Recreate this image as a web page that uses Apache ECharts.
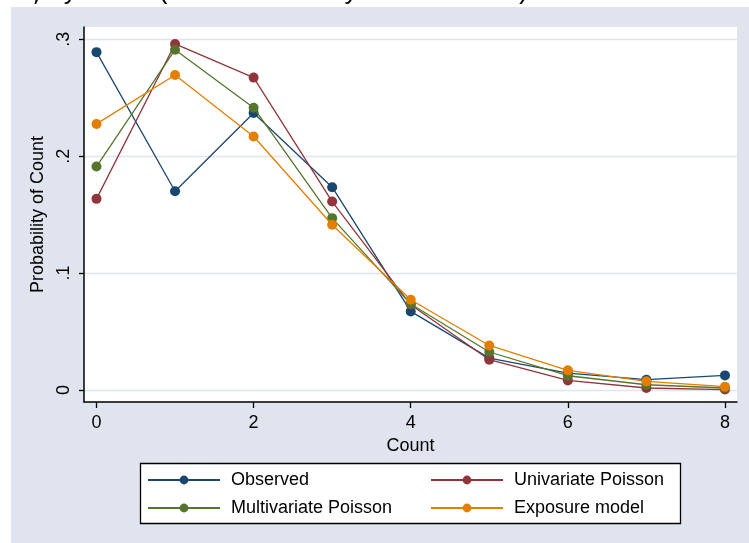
<!DOCTYPE html>
<html>
<head>
<meta charset="utf-8">
<script src="https://cdn.jsdelivr.net/npm/echarts@6/dist/echarts.min.js"></script>
<style>html,body{margin:0;padding:0;background:#fff;}#c{width:749px;height:543px;}</style>
</head>
<body>
<div id="c"></div>
<script>
const counts = [0, 1, 2, 3, 4, 5, 6, 7, 8];
const observed = [0.289, 0.170, 0.237, 0.1735, 0.0672, 0.0273, 0.0145, 0.0088, 0.0125];
const univariatePoisson = [0.1635, 0.296, 0.2672, 0.1612, 0.0729, 0.0259, 0.0082, 0.0017, 0.0004];
const multivariatePoisson = [0.1911, 0.2911, 0.2415, 0.147, 0.0735, 0.0325, 0.0122, 0.0045, 0.0017];
const exposureModel = [0.2276, 0.2695, 0.2168, 0.1413, 0.0772, 0.0381, 0.0168, 0.0074, 0.0028];
const xTicks = [0, 2, 4, 6, 8];
const yTicks = [0, 0.1, 0.2, 0.3];
const yTickLabels = ['0', '.1', '.2', '.3'];
const seriesNames = ['Observed', 'Univariate Poisson', 'Multivariate Poisson', 'Exposure model'];
const seriesColors = ['#1a476f', '#90353b', '#55752f', '#e37e00'];
const topText = 'ts, ytitle("Probability of Count")';

const FONT = '"Liberation Sans", Arial, sans-serif';
const allValues = [observed, univariatePoisson, multivariatePoisson, exposureModel];

const chart = echarts.init(document.getElementById('c'), null, {renderer: 'canvas'});
const series = seriesNames.map((name, i) => ({
  name: name,
  type: 'line',
  data: counts.map((c, j) => [c, allValues[i][j]]),
  symbol: 'circle',
  symbolSize: 10,
  color: seriesColors[i],
  lineStyle: {width: 1.3, color: seriesColors[i]},
  itemStyle: {color: seriesColors[i]},
  emphasis: {disabled: true},
  animation: false,
  z: 2 + i
}));

const legendCommon = {
  orient: 'vertical',
  itemWidth: 72,
  itemHeight: 11,
  itemGap: 10,
  textStyle: {fontFamily: FONT, fontSize: 18, color: '#000', padding: [0, 0, 0, 6]},
  selectedMode: false
};

chart.setOption({
  backgroundColor: '#ffffff',
  animation: false,
  graphic: [
    {type: 'rect', z: -100, shape: {x: 11, y: 7, width: 738, height: 536}, style: {fill: '#e0e4ef'}, silent: true},
    {type: 'rect', z: 1, shape: {x: 140.5, y: 463.5, width: 540, height: 60}, style: {fill: '#ffffff', stroke: '#000', lineWidth: 1.3}, silent: true},
    {type: 'text', z: 5, x: 0, y: -21, style: {text: topText, font: '26px "Liberation Mono", monospace', fill: '#000'}, silent: true}
  ],
  grid: {left: 84, right: 12, top: 27, bottom: 141, show: true, backgroundColor: '#ffffff', borderWidth: 0},
  xAxis: {
    type: 'value',
    min: -0.159, max: 8.153,
    name: 'Count', nameLocation: 'middle', nameGap: 31,
    nameTextStyle: {fontFamily: FONT, fontSize: 18, color: '#000'},
    axisLine: {show: true, onZero: false, lineStyle: {color: '#000', width: 1.5}},
    axisTick: {show: true, length: 6, lineStyle: {color: '#000', width: 1.3}, customValues: xTicks},
    axisLabel: {fontFamily: FONT, fontSize: 18, color: '#000', margin: 12, customValues: xTicks},
    splitLine: {show: false}
  },
  yAxis: {
    type: 'value',
    min: -0.01027, max: 0.3105,
    name: 'Probability of Count', nameLocation: 'middle', nameGap: 33,
    nameTextStyle: {fontFamily: FONT, fontSize: 18, color: '#000'},
    axisLine: {show: true, onZero: false, lineStyle: {color: '#000', width: 1.5}},
    axisTick: {show: true, length: 5, lineStyle: {color: '#000', width: 1.3}, customValues: yTicks},
    axisLabel: {fontFamily: FONT, fontSize: 18, color: '#000', margin: 11, rotate: 90,
      customValues: yTicks,
      formatter: v => { const k = yTicks.findIndex(t => Math.abs(t - v) < 1e-9); return k >= 0 ? yTickLabels[k] : ''; }},
    splitLine: {show: true, lineStyle: {color: '#dfe4ee', width: 1.3}}
  },
  legend: [
    Object.assign({}, legendCommon, {left: 142, top: 466, data: [seriesNames[0], seriesNames[2]]}),
    Object.assign({}, legendCommon, {left: 425, top: 466, data: [seriesNames[1], seriesNames[3]]})
  ],
  series: series
});
</script>
</body>
</html>
